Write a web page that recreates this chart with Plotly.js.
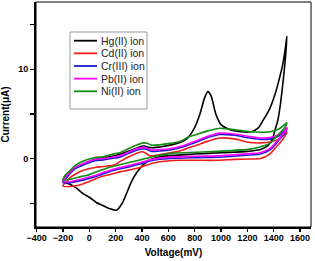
<!DOCTYPE html>
<html><head><meta charset="utf-8">
<script src="https://cdn.plot.ly/plotly-3.0.1.min.js"></script>
<style>html,body{margin:0;padding:0;background:#fff}#c{width:315px;height:261px}</style>
</head><body><div id="c"></div>
<script>
var seriesNames = ["Hg(II) ion", "Cd(II) ion", "Cr(III) ion", "Pb(II) ion", "Ni(II) ion"];
var seriesColors = ["#000000", "#ee1c1c", "#1a1ad0", "#ff00ff", "#138a13"];

// Hg(II): forward then reverse scan
var hgV = [-200,-150,-100,-50,43,195,333,409,470,536,612,688,740,790,840,875,900,925,960,1000,1055,1150,1230,1280,1320,1370,1410,1440,1465,1485,1500,
           1490,1470,1450,1430,1410,1390,1360,1300,1200,1000,800,650,536,470,409,359,320,283,250,207,150,106,50,5,-50,-100,-150,-200];
var hgI = [-2.6,-1.6,-1.0,-0.6,-0.1,0.3,1.0,1.4,1.2,1.3,1.5,1.8,2.2,3.2,5.0,6.8,7.5,7.0,5.0,3.8,3.3,3.0,3.0,3.4,4.3,5.6,7.2,8.8,10.3,12.0,13.7,
           11.5,8.5,6.0,4.2,3.2,2.2,1.5,1.0,0.8,0.65,0.5,0.35,0.2,-0.1,-0.7,-1.6,-2.6,-3.9,-5.0,-5.8,-5.6,-5.3,-4.9,-4.4,-3.9,-3.3,-2.85,-2.6];

// Cd(II)
var cdV = [-200,-175,-134,-100,-33,43,106,195,232,333,397,430,460,536,612,688,815,900,992,1100,1220,1300,1373,1440,1500,
           1480,1450,1422,1370,1300,1220,1100,967,815,688,612,485,385,300,232,195,100,43,-21,-80,-122,-200];
var cdI = [-3.1,-2.6,-2.0,-1.7,-1.27,-1.0,-0.9,-0.7,-0.35,0.41,0.75,0.6,0.3,0.45,0.65,0.85,1.5,1.95,2.3,2.2,1.8,1.75,1.85,2.2,3.0,
           2.4,1.8,1.35,0.5,0.0,-0.05,-0.1,-0.2,-0.2,-0.2,-0.25,-0.5,-1.0,-1.3,-1.5,-1.65,-2.0,-2.3,-2.7,-3.0,-3.1,-3.1];

// Cr(III)
var crV = [-200,-185,-150,-109,-50,43,106,195,232,333,409,440,470,536,612,688,815,900,992,1100,1220,1300,1373,1440,1500,
           1480,1450,1422,1370,1296,1220,967,815,612,485,400,300,195,100,43,-58,-148,-200];
var crI = [-2.7,-2.35,-1.75,-1.15,-0.75,-0.25,-0.15,0.05,0.15,0.8,1.1,1.0,0.8,0.85,0.95,1.2,1.85,2.35,2.7,2.6,2.3,2.15,2.2,2.55,3.35,
           2.75,2.25,1.75,0.95,0.5,0.4,0.15,0.1,0.0,-0.2,-0.55,-0.95,-1.3,-1.75,-2.05,-2.45,-2.7,-2.7];

// Pb(II)
var pbV = [-200,-185,-150,-109,-50,43,106,195,232,333,409,440,470,536,612,688,815,900,992,1100,1220,1300,1373,1440,1500,
           1480,1450,1422,1370,1296,1220,967,815,612,485,400,300,195,100,43,-58,-148,-200];
var pbI = [-2.6,-2.2,-1.6,-1.0,-0.6,-0.1,0.0,0.2,0.3,0.95,1.25,1.15,0.95,1.0,1.1,1.35,2.0,2.5,2.85,2.75,2.45,2.3,2.35,2.7,3.5,
           2.9,2.4,1.9,1.1,0.65,0.55,0.3,0.25,0.15,-0.07,-0.4,-0.8,-1.15,-1.6,-1.9,-2.3,-2.6,-2.6];

// Ni(II)
var niV = [-200,-185,-150,-109,-50,43,106,195,232,333,409,440,470,536,612,688,751,815,900,992,1055,1118,1220,1300,1373,1440,1500,
           1480,1450,1422,1370,1296,1220,967,815,612,485,400,300,232,150,50,-21,-58,-122,-200];
var niI = [-2.4,-1.9,-1.4,-0.8,-0.3,0.1,0.2,0.55,0.65,1.35,1.75,1.7,1.5,1.55,1.7,1.9,2.4,2.7,3.1,3.4,3.3,3.2,3.0,2.95,3.0,3.3,4.0,
           3.4,2.9,2.5,1.7,1.3,1.05,0.8,0.7,0.55,0.2,-0.1,-0.45,-0.7,-1.0,-1.5,-1.9,-2.0,-2.25,-2.4];

var xTicks = [-400,-200,0,200,400,600,800,1000,1200,1400,1600];
var yTickVals = [-5,0,5,10,15];
var yTickText = ["","0","","10",""];

var xs = [hgV, cdV, crV, pbV, niV];
var ys = [hgI, cdI, crI, pbI, niI];
var data = [];
for (var i = 0; i < xs.length; i++) {
  data.push({x: xs[i], y: ys[i], type: "scatter", mode: "lines", name: seriesNames[i],
    line: {color: seriesColors[i], width: 1.6, shape: "spline", smoothing: 0.8},
    showlegend: false, hoverinfo: "skip"});
}

// Plot area in px: x 36..311, y 2..227
var L = 36, R = 311, T = 2, B = 227;
function px(x){ return (x - L) / (R - L); }
function py(y){ return (B - y) / (B - T); }

var shapes = [
  {type: "rect", xref: "paper", yref: "paper", x0: 0, x1: 1, y0: 0, y1: 1, line: {color: "#000", width: 1}},
  {type: "rect", xref: "paper", yref: "paper", x0: px(70), x1: px(147), y0: py(109), y1: py(32),
   line: {color: "#9a9a9a", width: 1}, fillcolor: "rgba(255,255,255,0)"}
];
var annotations = [];
for (var j = 0; j < seriesNames.length; j++) {
  var yy = 40.7 + 12.65 * j;
  shapes.push({type: "line", xref: "paper", yref: "paper", x0: px(74), x1: px(97), y0: py(yy), y1: py(yy),
    line: {color: seriesColors[j], width: 1.8}});
  annotations.push({xref: "paper", yref: "paper", x: px(98.5), y: py(yy), xanchor: "left", yanchor: "middle",
    text: seriesNames[j], showarrow: false, font: {family: "Liberation Sans, Arial, sans-serif", size: 10.5, color: "#222"}});
}

var tickFont = {family: "Liberation Sans, Arial, sans-serif", size: 9, color: "#000", weight: "bold"};
var layout = {
  width: 315, height: 261,
  margin: {l: L, r: 315 - R, t: T, b: 261 - B, pad: 0},
  paper_bgcolor: "#fff", plot_bgcolor: "#fff",
  showlegend: false,
  xaxis: {range: [-405, 1683], tickvals: xTicks, ticks: "outside", ticklen: 3, tickwidth: 1.2, tickcolor: "#000",
    ticklabelstandoff: -2,
    showline: true, linewidth: 2, linecolor: "#000", showgrid: false, zeroline: false, tickfont: tickFont,
    title: {text: "Voltage(mV)", font: {family: "Liberation Sans, Arial, sans-serif", size: 10, color: "#000", weight: "bold"}, standoff: 7}},
  yaxis: {range: [-7.68, 17.55], tickvals: yTickVals, ticktext: yTickText, ticks: "outside", ticklen: 4, tickwidth: 1.2, tickcolor: "#000",
    showline: true, linewidth: 2, linecolor: "#000", showgrid: false, zeroline: false, tickfont: tickFont,
    title: {text: "Current(μA)", font: {family: "Liberation Sans, Arial, sans-serif", size: 10, color: "#000", weight: "bold"}, standoff: 8}},
  shapes: shapes,
  annotations: annotations
};
Plotly.newPlot("c", data, layout, {staticPlot: true, displayModeBar: false});
</script></body></html>
